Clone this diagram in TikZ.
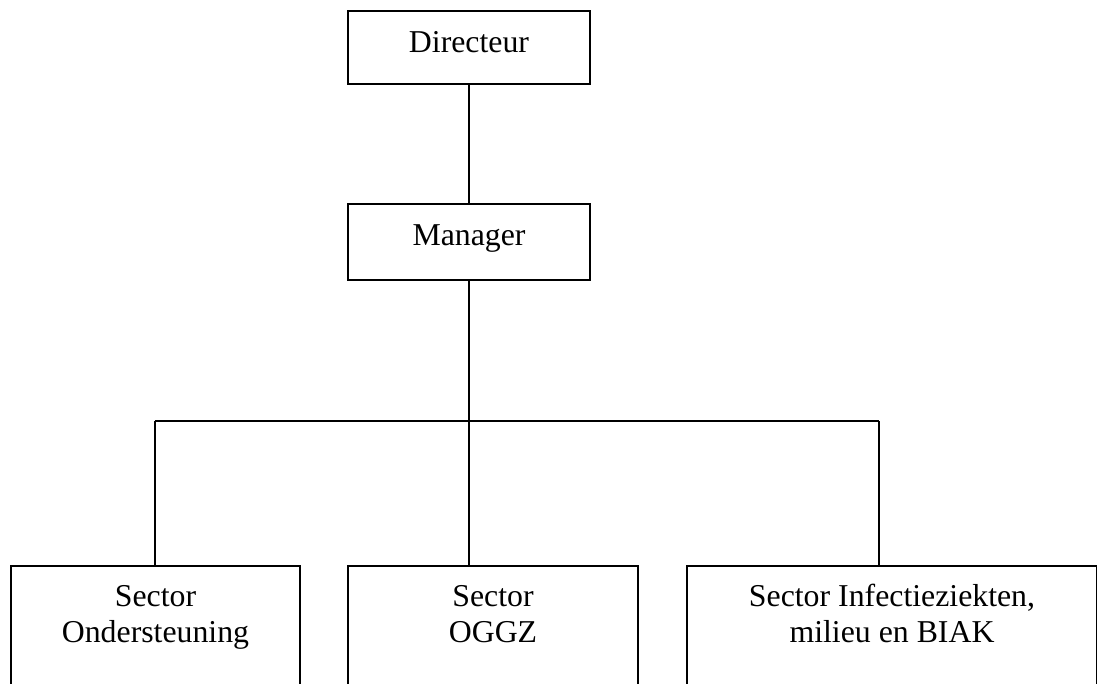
\documentclass[tikz,border=0pt]{standalone}
\usepackage{fontspec}
\setmainfont{Liberation Serif}
\begin{document}
\begin{tikzpicture}[x=1pt,y=-1pt,
  orgbox/.style={draw, line width=2pt, minimum width=#1, inner sep=0pt, anchor=north west},
  orgtext/.style={anchor=base, align=center, inner sep=0pt,
    font=\fontsize{31.8}{36}\selectfont},
  link/.style={line width=2pt}]
\useasboundingbox (0,0) rectangle (1097,683);
\clip (0,0) rectangle (1097,683);
% top of the chart
\node[orgbox=242pt, minimum height=73pt] (dir) at (347,10) {};
\node[orgtext] (dirtxt) at ([yshift=-42pt]dir.north) {Directeur};
\node[orgbox=242pt, minimum height=76pt] (mgr) at (347,203) {};
\node[orgtext] (mgrtxt) at ([yshift=-42pt]mgr.north) {Manager};
% sectors (open towards the bottom edge); base = last text line
\node[orgbox=289pt, minimum height=200pt] (ond) at (10,565) {};
\node[orgtext] (ondtxt) at ([yshift=-77pt]ond.north) {Sector\\Ondersteuning};
\node[orgbox=290pt, minimum height=200pt] (oggz) at (347,565) {};
\node[orgtext] (oggztxt) at ([yshift=-77pt]oggz.north) {Sector\\OGGZ};
\node[orgbox=410pt, minimum height=200pt] (inf) at (686,565) {};
\node[orgtext] (inftxt) at ([yshift=-77pt]inf.north) {Sector Infectieziekten,\\milieu en BIAK};
% connectors
\coordinate (busl) at (155,421);
\coordinate (busr) at (879,421);
\draw[link] (dir.south) -- (mgr.north);
\draw[link] (mgr.south) -- (mgr.south |- oggz.north);
\draw[link] (busl) -- (busr);
\draw[link] (busl) -- (busl |- ond.north);
\draw[link] (busr) -- (busr |- inf.north);
\end{tikzpicture}
\end{document}
